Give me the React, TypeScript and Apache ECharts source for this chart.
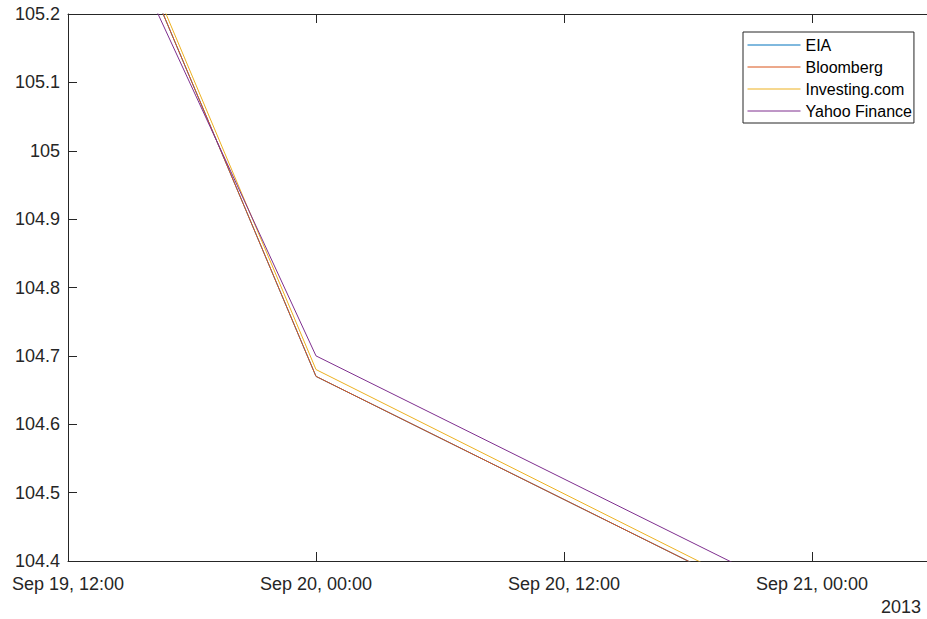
import React, { useEffect, useRef } from "react";
import * as echarts from "echarts";

const dates = ["2013-09-19T00:00:00Z", "2013-09-20T00:00:00Z", "2013-09-23T00:00:00Z"];
const eia = [106.39, 104.67, 103.59];
const bloomberg = [106.39, 104.67, 103.59];
const investing = [106.4, 104.68, 103.59];
const yahoo = [106.27, 104.7, 103.62];
const seriesNames = ["EIA", "Bloomberg", "Investing.com", "Yahoo Finance"];
const seriesColors = ["#0072BD", "#D95319", "#EDB120", "#7E2F8E"];
const monthNames = ["Jan", "Feb", "Mar", "Apr", "May", "Jun", "Jul", "Aug", "Sep", "Oct", "Nov", "Dec"];

const X_MIN = Date.UTC(2013, 8, 19, 12);
const X_MAX = Date.UTC(2013, 8, 21, 6);
const HALF_DAY = 12 * 3600 * 1000;

const pad = (n: number) => (n < 10 ? "0" + n : "" + n);

export default function App() {
  const ref = useRef<HTMLDivElement>(null);
  useEffect(() => {
    if (!ref.current) return;
    const chart = echarts.init(ref.current, null, { renderer: "svg" });
    const allValues = [eia, bloomberg, investing, yahoo];
    const font = "'Liberation Sans', Arial, Helvetica, sans-serif";
    const axisColor = "#262626";
    chart.setOption({
      animation: false,
      backgroundColor: "#ffffff",
      textStyle: { fontFamily: font },
      grid: { left: 68, top: 14, right: -9, bottom: 58, containLabel: false, outerBoundsMode: "none" },
      legend: {
        orient: "vertical",
        left: 743,
        top: 32,
        itemWidth: 53,
        itemHeight: 14,
        itemGap: 6,
        padding: [5, 2, 4, 4],
        borderColor: axisColor,
        borderWidth: 1,
        backgroundColor: "#ffffff",
        itemStyle: { opacity: 0 },
        lineStyle: { width: 1 },
        textStyle: { fontSize: 16, color: "#000000", fontFamily: font },
        data: seriesNames,
      },
      xAxis: [
        {
          type: "value",
          min: X_MIN,
          max: X_MAX,
          interval: HALF_DAY,
          axisLine: { show: true, onZero: false, lineStyle: { color: axisColor, width: 1 } },
          axisTick: { show: true, inside: true, length: 9, lineStyle: { color: axisColor } },
          splitLine: { show: false },
          axisLabel: {
            showMaxLabel: false,
            fontSize: 18,
            color: axisColor,
            margin: 14,
            formatter: (v: number) => {
              const d = new Date(v);
              return `${monthNames[d.getUTCMonth()]} ${d.getUTCDate()}, ${pad(d.getUTCHours())}:${pad(d.getUTCMinutes())}`;
            },
          },
        },
        {
          type: "value",
          position: "top",
          min: X_MIN,
          max: X_MAX,
          interval: HALF_DAY,
          axisLine: { show: true, onZero: false, lineStyle: { color: axisColor, width: 1 } },
          axisTick: { show: true, inside: true, length: 9, lineStyle: { color: axisColor } },
          splitLine: { show: false },
          axisLabel: { show: false },
        },
      ],
      yAxis: [
        {
          type: "value",
          min: 104.4,
          max: 105.2,
          interval: 0.1,
          axisLine: { show: true, onZero: false, lineStyle: { color: axisColor, width: 1 } },
          axisTick: { show: true, inside: true, length: 9, lineStyle: { color: axisColor } },
          splitLine: { show: false },
          axisLabel: {
            fontSize: 18,
            color: axisColor,
            margin: 8,
            padding: [3, 0, 0, 0],
            formatter: (v: number) => String(parseFloat(v.toFixed(1))),
          },
        },
        {
          type: "value",
          position: "right",
          min: 104.4,
          max: 105.2,
          interval: 0.1,
          axisLine: { show: true, onZero: false, lineStyle: { color: axisColor, width: 1 } },
          axisTick: { show: true, inside: true, length: 9, lineStyle: { color: axisColor } },
          splitLine: { show: false },
          axisLabel: { show: false },
        },
      ],
      graphic: [
        {
          type: "text",
          left: 881,
          top: 598,
          style: { text: "2013", font: `18px ${font}`, fill: axisColor },
        },
      ],
      series: seriesNames.map((name, i) => ({
        name,
        type: "line",
        symbol: "none",
        clip: true,
        color: seriesColors[i],
        lineStyle: { width: 1, color: seriesColors[i] },
        data: dates.map((d, j) => [Date.parse(d), allValues[i][j]]),
      })),
    });
    return () => chart.dispose();
  }, []);
  return (
    <div
      ref={ref}
      style={{ position: "fixed", left: 0, top: 0, width: 927, height: 619, background: "#fff" }}
    />
  );
}
